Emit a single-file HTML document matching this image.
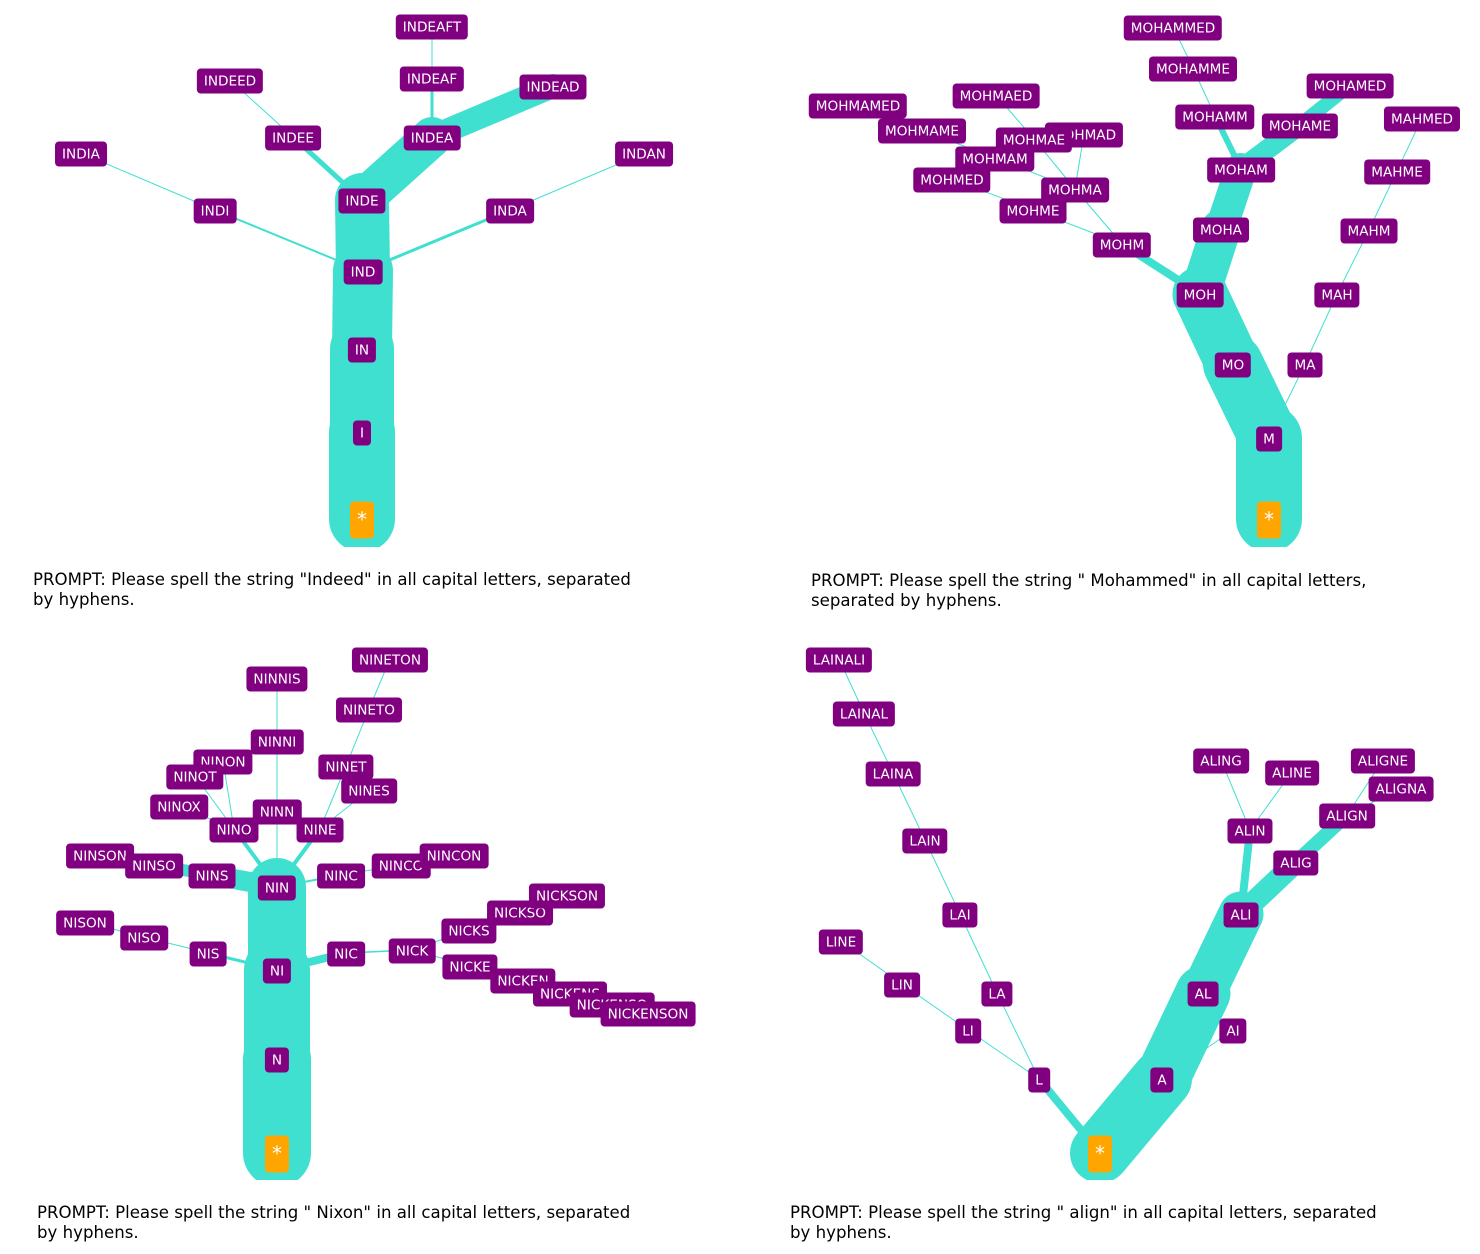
<!DOCTYPE html>
<html><head><meta charset="utf-8"><style>
body{margin:0;background:#fff;width:1480px;height:1254px;position:relative;overflow:hidden;font-family:"DejaVu Sans","Liberation Sans",sans-serif}
svg{position:absolute;left:0;top:0}
.n{position:absolute;transform:translate(-50%,-50%);background:#800080;color:#fff;font-size:13.6px;line-height:18px;padding:4px 7px 3px;border-radius:4px;white-space:nowrap}
.s{background:#FFA500;font-size:20px;line-height:25px;padding:6px 7px}
.c{position:absolute;font-size:16.6px;line-height:20px;color:#000}
</style></head><body>
<svg width="1480" height="1254" stroke="#40E0D0" stroke-linecap="round" fill="none">
<defs>
<clipPath id="c1"><rect x="0" y="0" width="740" height="547"/></clipPath>
<clipPath id="c2"><rect x="740" y="0" width="740" height="547"/></clipPath>
<clipPath id="c3"><rect x="0" y="630" width="740" height="550"/></clipPath>
<clipPath id="c4"><rect x="740" y="630" width="740" height="550"/></clipPath>
</defs>
<g clip-path="url(#c1)">
<line x1="362" y1="519" x2="362" y2="432" stroke-width="66"/>
<line x1="362" y1="432" x2="362" y2="349" stroke-width="64"/>
<line x1="362" y1="349" x2="363" y2="271" stroke-width="60"/>
<line x1="363" y1="271" x2="362" y2="200" stroke-width="54"/>
<line x1="362" y1="200" x2="432" y2="137" stroke-width="40"/>
<line x1="432" y1="137" x2="553" y2="86" stroke-width="24"/>
<line x1="432" y1="137" x2="432" y2="78" stroke-width="3"/>
<line x1="432" y1="78" x2="432" y2="26" stroke-width="1"/>
<line x1="362" y1="200" x2="293" y2="137" stroke-width="5"/>
<line x1="293" y1="137" x2="230" y2="80" stroke-width="1"/>
<line x1="363" y1="271" x2="215" y2="210" stroke-width="2"/>
<line x1="215" y1="210" x2="81" y2="153" stroke-width="1"/>
<line x1="363" y1="271" x2="510" y2="210" stroke-width="3"/>
<line x1="510" y1="210" x2="644" y2="153" stroke-width="1"/>
</g>
<g clip-path="url(#c2)">
<line x1="1269" y1="519" x2="1269" y2="438" stroke-width="66"/>
<line x1="1269" y1="438" x2="1233" y2="364" stroke-width="60"/>
<line x1="1233" y1="364" x2="1200" y2="294" stroke-width="55"/>
<line x1="1200" y1="294" x2="1221" y2="229" stroke-width="40"/>
<line x1="1221" y1="229" x2="1241" y2="169" stroke-width="32"/>
<line x1="1241" y1="169" x2="1300" y2="125" stroke-width="20"/>
<line x1="1300" y1="125" x2="1350" y2="85" stroke-width="14"/>
<line x1="1241" y1="169" x2="1215" y2="116" stroke-width="6"/>
<line x1="1215" y1="116" x2="1193" y2="68" stroke-width="1"/>
<line x1="1193" y1="68" x2="1173" y2="27" stroke-width="1"/>
<line x1="1200" y1="294" x2="1122" y2="244" stroke-width="8"/>
<line x1="1122" y1="244" x2="1075" y2="189" stroke-width="1"/>
<line x1="1122" y1="244" x2="1033" y2="210" stroke-width="1"/>
<line x1="1033" y1="210" x2="952" y2="179" stroke-width="1"/>
<line x1="1075" y1="189" x2="1034" y2="139" stroke-width="1"/>
<line x1="1075" y1="189" x2="1084" y2="134" stroke-width="1"/>
<line x1="1034" y1="139" x2="996" y2="95" stroke-width="1"/>
<line x1="1075" y1="189" x2="995" y2="158" stroke-width="1"/>
<line x1="995" y1="158" x2="922" y2="130" stroke-width="1"/>
<line x1="922" y1="130" x2="858" y2="105" stroke-width="1"/>
<line x1="1269" y1="438" x2="1305" y2="364" stroke-width="1"/>
<line x1="1305" y1="364" x2="1337" y2="294" stroke-width="1"/>
<line x1="1337" y1="294" x2="1369" y2="230" stroke-width="1"/>
<line x1="1369" y1="230" x2="1397" y2="171" stroke-width="1"/>
<line x1="1397" y1="171" x2="1422" y2="118" stroke-width="1"/>
</g>
<g clip-path="url(#c3)">
<line x1="277" y1="1153" x2="277" y2="1059" stroke-width="68"/>
<line x1="277" y1="1059" x2="277" y2="970" stroke-width="66"/>
<line x1="277" y1="970" x2="277" y2="887" stroke-width="58"/>
<line x1="277" y1="887" x2="212" y2="875" stroke-width="20"/>
<line x1="212" y1="875" x2="154" y2="865" stroke-width="12"/>
<line x1="154" y1="865" x2="100" y2="855" stroke-width="6"/>
<line x1="277" y1="887" x2="234" y2="829" stroke-width="4"/>
<line x1="234" y1="829" x2="179" y2="806" stroke-width="1"/>
<line x1="234" y1="829" x2="195" y2="776" stroke-width="1"/>
<line x1="234" y1="829" x2="223" y2="761" stroke-width="1"/>
<line x1="277" y1="887" x2="277" y2="811" stroke-width="1"/>
<line x1="277" y1="811" x2="277" y2="741" stroke-width="1"/>
<line x1="277" y1="741" x2="277" y2="678" stroke-width="1"/>
<line x1="277" y1="887" x2="320" y2="829" stroke-width="4"/>
<line x1="320" y1="829" x2="346" y2="766" stroke-width="1"/>
<line x1="346" y1="766" x2="369" y2="709" stroke-width="1"/>
<line x1="369" y1="709" x2="390" y2="659" stroke-width="1"/>
<line x1="320" y1="829" x2="369" y2="790" stroke-width="1"/>
<line x1="277" y1="887" x2="341" y2="875" stroke-width="2"/>
<line x1="341" y1="875" x2="401" y2="865" stroke-width="1"/>
<line x1="277" y1="970" x2="208" y2="953" stroke-width="3"/>
<line x1="208" y1="953" x2="144" y2="937" stroke-width="1"/>
<line x1="144" y1="937" x2="85" y2="922" stroke-width="1"/>
<line x1="277" y1="970" x2="346" y2="953" stroke-width="8"/>
<line x1="346" y1="953" x2="412" y2="950" stroke-width="1.5"/>
<line x1="412" y1="950" x2="469" y2="930" stroke-width="1"/>
<line x1="412" y1="950" x2="470" y2="966" stroke-width="1"/>
</g>
<g clip-path="url(#c4)">
<line x1="1100" y1="1153" x2="1162" y2="1079" stroke-width="60"/>
<line x1="1162" y1="1079" x2="1203" y2="993" stroke-width="55"/>
<line x1="1203" y1="993" x2="1241" y2="914" stroke-width="45"/>
<line x1="1241" y1="914" x2="1296" y2="862" stroke-width="22"/>
<line x1="1296" y1="862" x2="1347" y2="815" stroke-width="14"/>
<line x1="1347" y1="815" x2="1401" y2="788" stroke-width="1"/>
<line x1="1347" y1="815" x2="1383" y2="760" stroke-width="1"/>
<line x1="1241" y1="914" x2="1250" y2="830" stroke-width="8"/>
<line x1="1250" y1="830" x2="1292" y2="772" stroke-width="1"/>
<line x1="1250" y1="830" x2="1221" y2="760" stroke-width="1"/>
<line x1="1162" y1="1079" x2="1233" y2="1030" stroke-width="1"/>
<line x1="1100" y1="1153" x2="1039" y2="1079" stroke-width="8"/>
<line x1="1039" y1="1079" x2="968" y2="1030" stroke-width="1"/>
<line x1="968" y1="1030" x2="902" y2="984" stroke-width="1"/>
<line x1="902" y1="984" x2="841" y2="941" stroke-width="1"/>
<line x1="1039" y1="1079" x2="997" y2="993" stroke-width="1"/>
<line x1="997" y1="993" x2="960" y2="914" stroke-width="1"/>
<line x1="960" y1="914" x2="925" y2="840" stroke-width="1"/>
<line x1="925" y1="840" x2="893" y2="773" stroke-width="1"/>
<line x1="893" y1="773" x2="864" y2="713" stroke-width="1"/>
<line x1="864" y1="713" x2="839" y2="659" stroke-width="1"/>
</g>
</svg>

<div class="n s" style="left:362px;top:520px">*</div>
<div class="n" style="left:362px;top:433px">I</div>
<div class="n" style="left:362px;top:350px">IN</div>
<div class="n" style="left:363px;top:272px">IND</div>
<div class="n" style="left:362px;top:201px">INDE</div>
<div class="n" style="left:432px;top:138px">INDEA</div>
<div class="n" style="left:432px;top:79px">INDEAF</div>
<div class="n" style="left:432px;top:27px">INDEAFT</div>
<div class="n" style="left:553px;top:87px">INDEAD</div>
<div class="n" style="left:293px;top:138px">INDEE</div>
<div class="n" style="left:230px;top:81px">INDEED</div>
<div class="n" style="left:215px;top:211px">INDI</div>
<div class="n" style="left:81px;top:154px">INDIA</div>
<div class="n" style="left:510px;top:211px">INDA</div>
<div class="n" style="left:644px;top:154px">INDAN</div>

<div class="n s" style="left:1269px;top:520px">*</div>
<div class="n" style="left:1269px;top:439px">M</div>
<div class="n" style="left:1233px;top:365px">MO</div>
<div class="n" style="left:1200px;top:295px">MOH</div>
<div class="n" style="left:1221px;top:230px">MOHA</div>
<div class="n" style="left:1241px;top:170px">MOHAM</div>
<div class="n" style="left:1300px;top:126px">MOHAME</div>
<div class="n" style="left:1350px;top:86px">MOHAMED</div>
<div class="n" style="left:1215px;top:117px">MOHAMM</div>
<div class="n" style="left:1193px;top:69px">MOHAMME</div>
<div class="n" style="left:1173px;top:28px">MOHAMMED</div>
<div class="n" style="left:1122px;top:245px">MOHM</div>
<div class="n" style="left:1075px;top:190px">MOHMA</div>
<div class="n" style="left:1033px;top:211px">MOHME</div>
<div class="n" style="left:952px;top:180px">MOHMED</div>
<div class="n" style="left:1084px;top:135px">MOHMAD</div>
<div class="n" style="left:996px;top:96px">MOHMAED</div>
<div class="n" style="left:858px;top:106px">MOHMAMED</div>
<div class="n" style="left:922px;top:131px">MOHMAME</div>
<div class="n" style="left:1034px;top:140px">MOHMAE</div>
<div class="n" style="left:995px;top:159px">MOHMAM</div>
<div class="n" style="left:1305px;top:365px">MA</div>
<div class="n" style="left:1337px;top:295px">MAH</div>
<div class="n" style="left:1369px;top:231px">MAHM</div>
<div class="n" style="left:1397px;top:172px">MAHME</div>
<div class="n" style="left:1422px;top:119px">MAHMED</div>

<div class="n s" style="left:277px;top:1154px">*</div>
<div class="n" style="left:277px;top:1060px">N</div>
<div class="n" style="left:277px;top:971px">NI</div>
<div class="n" style="left:277px;top:888px">NIN</div>
<div class="n" style="left:100px;top:856px">NINSON</div>
<div class="n" style="left:154px;top:866px">NINSO</div>
<div class="n" style="left:212px;top:876px">NINS</div>
<div class="n" style="left:223px;top:762px">NINON</div>
<div class="n" style="left:195px;top:777px">NINOT</div>
<div class="n" style="left:179px;top:807px">NINOX</div>
<div class="n" style="left:277px;top:679px">NINNIS</div>
<div class="n" style="left:277px;top:742px">NINNI</div>
<div class="n" style="left:277px;top:812px">NINN</div>
<div class="n" style="left:234px;top:830px">NINO</div>
<div class="n" style="left:390px;top:660px">NINETON</div>
<div class="n" style="left:369px;top:710px">NINETO</div>
<div class="n" style="left:346px;top:767px">NINET</div>
<div class="n" style="left:369px;top:791px">NINES</div>
<div class="n" style="left:320px;top:830px">NINE</div>
<div class="n" style="left:341px;top:876px">NINC</div>
<div class="n" style="left:401px;top:866px">NINCO</div>
<div class="n" style="left:454px;top:856px">NINCON</div>
<div class="n" style="left:85px;top:923px">NISON</div>
<div class="n" style="left:144px;top:938px">NISO</div>
<div class="n" style="left:208px;top:954px">NIS</div>
<div class="n" style="left:346px;top:954px">NIC</div>
<div class="n" style="left:412px;top:951px">NICK</div>
<div class="n" style="left:469px;top:931px">NICKS</div>
<div class="n" style="left:520px;top:913px">NICKSO</div>
<div class="n" style="left:567px;top:896px">NICKSON</div>
<div class="n" style="left:470px;top:967px">NICKE</div>
<div class="n" style="left:523px;top:981px">NICKEN</div>
<div class="n" style="left:570px;top:994px">NICKENS</div>
<div class="n" style="left:612px;top:1005px">NICKENSO</div>
<div class="n" style="left:648px;top:1014px">NICKENSON</div>

<div class="n s" style="left:1100px;top:1154px">*</div>
<div class="n" style="left:1162px;top:1080px">A</div>
<div class="n" style="left:1203px;top:994px">AL</div>
<div class="n" style="left:1241px;top:915px">ALI</div>
<div class="n" style="left:1296px;top:863px">ALIG</div>
<div class="n" style="left:1347px;top:816px">ALIGN</div>
<div class="n" style="left:1383px;top:761px">ALIGNE</div>
<div class="n" style="left:1401px;top:789px">ALIGNA</div>
<div class="n" style="left:1250px;top:831px">ALIN</div>
<div class="n" style="left:1292px;top:773px">ALINE</div>
<div class="n" style="left:1221px;top:761px">ALING</div>
<div class="n" style="left:1233px;top:1031px">AI</div>
<div class="n" style="left:1039px;top:1080px">L</div>
<div class="n" style="left:968px;top:1031px">LI</div>
<div class="n" style="left:902px;top:985px">LIN</div>
<div class="n" style="left:841px;top:942px">LINE</div>
<div class="n" style="left:997px;top:994px">LA</div>
<div class="n" style="left:960px;top:915px">LAI</div>
<div class="n" style="left:925px;top:841px">LAIN</div>
<div class="n" style="left:893px;top:774px">LAINA</div>
<div class="n" style="left:864px;top:714px">LAINAL</div>
<div class="n" style="left:839px;top:660px">LAINALI</div>

<div class="c" style="left:33px;top:570px">PROMPT: Please spell the string "Indeed" in all capital letters, separated<br>by hyphens.</div>
<div class="c" style="left:811px;top:571px">PROMPT: Please spell the string " Mohammed" in all capital letters,<br>separated by hyphens.</div>
<div class="c" style="left:37px;top:1203px">PROMPT: Please spell the string " Nixon" in all capital letters, separated<br>by hyphens.</div>
<div class="c" style="left:790px;top:1203px">PROMPT: Please spell the string " align" in all capital letters, separated<br>by hyphens.</div>
</body></html>
